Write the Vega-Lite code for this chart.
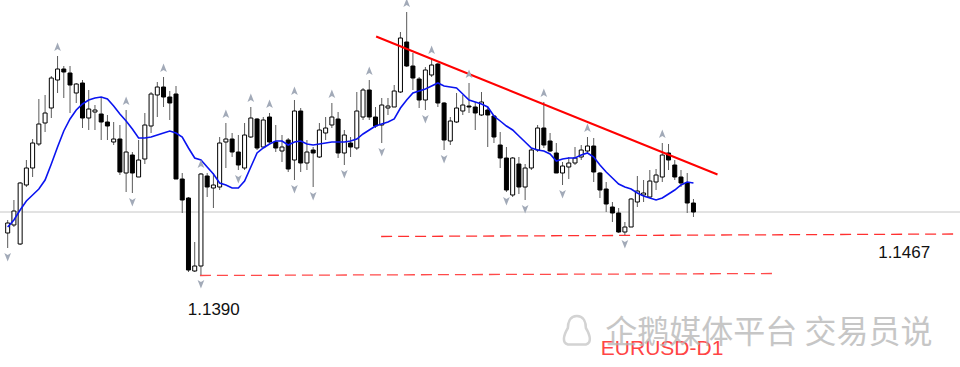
{
  "$schema": "https://vega.github.io/schema/vega-lite/v6.json",
  "width": 960,
  "height": 367,
  "padding": 0,
  "autosize": {"type": "none"},
  "background": "white",
  "config": {"view": {"stroke": null}},
  "data": {"values": [
    {"d":0,"o":1.1472,"h":1.1498,"l":1.1442,"c":1.1492,"ma":1.1484,"fd":1},
    {"d":1,"o":1.1488,"h":1.1538,"l":1.1484,"c":1.1516,"ma":1.1498},
    {"d":2,"o":1.1450,"h":1.1574,"l":1.1448,"c":1.1572,"ma":1.1518},
    {"d":3,"o":1.1568,"h":1.1618,"l":1.1564,"c":1.1602,"ma":1.1536},
    {"d":4,"o":1.1602,"h":1.1660,"l":1.1584,"c":1.1652,"ma":1.1548},
    {"d":5,"o":1.1650,"h":1.1740,"l":1.1646,"c":1.1690,"ma":1.1560},
    {"d":6,"o":1.1692,"h":1.1748,"l":1.1674,"c":1.1712,"ma":1.1578},
    {"d":7,"o":1.1722,"h":1.1786,"l":1.1702,"c":1.1782,"ma":1.1610},
    {"d":8,"o":1.1778,"h":1.1826,"l":1.1752,"c":1.1800,"ma":1.1644,"fu":1},
    {"d":9,"o":1.1800,"h":1.1806,"l":1.1742,"c":1.1794,"ma":1.1676},
    {"d":10,"o":1.1792,"h":1.1806,"l":1.1712,"c":1.1768,"ma":1.1700},
    {"d":11,"o":1.1752,"h":1.1772,"l":1.1732,"c":1.1770,"ma":1.1718},
    {"d":12,"o":1.1772,"h":1.1778,"l":1.1682,"c":1.1702,"ma":1.1730},
    {"d":13,"o":1.1702,"h":1.1758,"l":1.1678,"c":1.1720,"ma":1.1738},
    {"d":14,"o":1.1714,"h":1.1728,"l":1.1678,"c":1.1718,"ma":1.1742},
    {"d":15,"o":1.1710,"h":1.1742,"l":1.1658,"c":1.1694,"ma":1.1744},
    {"d":16,"o":1.1694,"h":1.1708,"l":1.1658,"c":1.1686,"ma":1.1740},
    {"d":17,"o":1.1654,"h":1.1694,"l":1.1648,"c":1.1660,"ma":1.1726},
    {"d":18,"o":1.1660,"h":1.1688,"l":1.1588,"c":1.1594,"ma":1.1710},
    {"d":19,"o":1.1592,"h":1.1718,"l":1.1554,"c":1.1634,"ma":1.1696,"fu":1},
    {"d":20,"o":1.1628,"h":1.1634,"l":1.1552,"c":1.1592,"ma":1.1680,"fd":1},
    {"d":21,"o":1.1584,"h":1.1658,"l":1.1584,"c":1.1618,"ma":1.1662},
    {"d":22,"o":1.1620,"h":1.1712,"l":1.1610,"c":1.1688,"ma":1.1662},
    {"d":23,"o":1.1686,"h":1.1754,"l":1.1672,"c":1.1750,"ma":1.1664},
    {"d":24,"o":1.1748,"h":1.1774,"l":1.1704,"c":1.1764,"ma":1.1668},
    {"d":25,"o":1.1764,"h":1.1784,"l":1.1724,"c":1.1744,"ma":1.1672,"fu":1},
    {"d":26,"o":1.1744,"h":1.1756,"l":1.1698,"c":1.1732,"ma":1.1676},
    {"d":27,"o":1.1750,"h":1.1766,"l":1.1580,"c":1.1580,"ma":1.1672},
    {"d":28,"o":1.1580,"h":1.1592,"l":1.1512,"c":1.1538,"ma":1.1664},
    {"d":29,"o":1.1542,"h":1.1544,"l":1.1394,"c":1.1398,"ma":1.1642},
    {"d":30,"o":1.1396,"h":1.1454,"l":1.1394,"c":1.1406,"ma":1.1622},
    {"d":31,"o":1.1406,"h":1.1592,"l":1.1388,"c":1.1590,"ma":1.1618,"fu":1,"fd":1},
    {"d":32,"o":1.1586,"h":1.1592,"l":1.1544,"c":1.1564,"ma":1.1604},
    {"d":33,"o":1.1562,"h":1.1592,"l":1.1522,"c":1.1568,"ma":1.1590},
    {"d":34,"o":1.1564,"h":1.1664,"l":1.1558,"c":1.1652,"ma":1.1572},
    {"d":35,"o":1.1654,"h":1.1692,"l":1.1602,"c":1.1660,"ma":1.1568,"fu":1},
    {"d":36,"o":1.1660,"h":1.1672,"l":1.1624,"c":1.1634,"ma":1.1562},
    {"d":37,"o":1.1634,"h":1.1668,"l":1.1598,"c":1.1608,"ma":1.1562,"fd":1},
    {"d":38,"o":1.1602,"h":1.1692,"l":1.1598,"c":1.1668,"ma":1.1576},
    {"d":39,"o":1.1664,"h":1.1724,"l":1.1662,"c":1.1702,"ma":1.1604,"fu":1},
    {"d":40,"o":1.1700,"h":1.1702,"l":1.1638,"c":1.1642,"ma":1.1632},
    {"d":41,"o":1.1644,"h":1.1704,"l":1.1644,"c":1.1698,"ma":1.1642},
    {"d":42,"o":1.1704,"h":1.1712,"l":1.1652,"c":1.1654,"ma":1.1650,"fu":1},
    {"d":43,"o":1.1654,"h":1.1688,"l":1.1634,"c":1.1642,"ma":1.1656},
    {"d":44,"o":1.1636,"h":1.1668,"l":1.1614,"c":1.1644,"ma":1.1656},
    {"d":45,"o":1.1658,"h":1.1662,"l":1.1594,"c":1.1600,"ma":1.1648},
    {"d":46,"o":1.1618,"h":1.1738,"l":1.1578,"c":1.1716,"ma":1.1654,"fu":1,"fd":1},
    {"d":47,"o":1.1716,"h":1.1722,"l":1.1594,"c":1.1612,"ma":1.1656},
    {"d":48,"o":1.1612,"h":1.1658,"l":1.1598,"c":1.1634,"ma":1.1650},
    {"d":49,"o":1.1638,"h":1.1644,"l":1.1564,"c":1.1632,"ma":1.1648,"fd":1},
    {"d":50,"o":1.1624,"h":1.1692,"l":1.1622,"c":1.1678,"ma":1.1650},
    {"d":51,"o":1.1672,"h":1.1704,"l":1.1658,"c":1.1682,"ma":1.1652},
    {"d":52,"o":1.1688,"h":1.1732,"l":1.1682,"c":1.1704,"ma":1.1654,"fu":1},
    {"d":53,"o":1.1700,"h":1.1714,"l":1.1622,"c":1.1632,"ma":1.1654},
    {"d":54,"o":1.1632,"h":1.1678,"l":1.1608,"c":1.1668,"ma":1.1654,"fd":1},
    {"d":55,"o":1.1652,"h":1.1664,"l":1.1624,"c":1.1644,"ma":1.1656},
    {"d":56,"o":1.1642,"h":1.1754,"l":1.1638,"c":1.1716,"ma":1.1660},
    {"d":57,"o":1.1704,"h":1.1762,"l":1.1698,"c":1.1758,"ma":1.1670},
    {"d":58,"o":1.1758,"h":1.1778,"l":1.1698,"c":1.1704,"ma":1.1678,"fu":1},
    {"d":59,"o":1.1704,"h":1.1724,"l":1.1682,"c":1.1686,"ma":1.1686},
    {"d":60,"o":1.1688,"h":1.1742,"l":1.1652,"c":1.1728,"ma":1.1690,"fd":1},
    {"d":61,"o":1.1722,"h":1.1742,"l":1.1708,"c":1.1726,"ma":1.1694},
    {"d":62,"o":1.1724,"h":1.1768,"l":1.1724,"c":1.1756,"ma":1.1700},
    {"d":63,"o":1.1754,"h":1.1874,"l":1.1752,"c":1.1862,"ma":1.1722},
    {"d":64,"o":1.1854,"h":1.1914,"l":1.1804,"c":1.1806,"ma":1.1738,"fu":1},
    {"d":65,"o":1.1806,"h":1.1832,"l":1.1758,"c":1.1782,"ma":1.1752},
    {"d":66,"o":1.1780,"h":1.1784,"l":1.1722,"c":1.1738,"ma":1.1756},
    {"d":67,"o":1.1738,"h":1.1804,"l":1.1718,"c":1.1798,"ma":1.1760,"fd":1},
    {"d":68,"o":1.1788,"h":1.1820,"l":1.1784,"c":1.1808,"ma":1.1766,"fu":1},
    {"d":69,"o":1.1810,"h":1.1812,"l":1.1724,"c":1.1732,"ma":1.1772},
    {"d":70,"o":1.1732,"h":1.1734,"l":1.1638,"c":1.1658,"ma":1.1766,"fd":1},
    {"d":71,"o":1.1656,"h":1.1704,"l":1.1648,"c":1.1696,"ma":1.1764},
    {"d":72,"o":1.1694,"h":1.1752,"l":1.1692,"c":1.1722,"ma":1.1762},
    {"d":73,"o":1.1716,"h":1.1748,"l":1.1708,"c":1.1728,"ma":1.1750},
    {"d":74,"o":1.1726,"h":1.1772,"l":1.1712,"c":1.1724,"ma":1.1738,"fu":1},
    {"d":75,"o":1.1724,"h":1.1734,"l":1.1678,"c":1.1712,"ma":1.1734},
    {"d":76,"o":1.1708,"h":1.1754,"l":1.1706,"c":1.1734,"ma":1.1730},
    {"d":77,"o":1.1718,"h":1.1724,"l":1.1644,"c":1.1708,"ma":1.1724},
    {"d":78,"o":1.1706,"h":1.1708,"l":1.1652,"c":1.1664,"ma":1.1706},
    {"d":79,"o":1.1648,"h":1.1674,"l":1.1602,"c":1.1622,"ma":1.1696},
    {"d":80,"o":1.1622,"h":1.1644,"l":1.1554,"c":1.1558,"ma":1.1686,"fd":1},
    {"d":81,"o":1.1548,"h":1.1624,"l":1.1544,"c":1.1622,"ma":1.1678},
    {"d":82,"o":1.1610,"h":1.1624,"l":1.1550,"c":1.1564,"ma":1.1666},
    {"d":83,"o":1.1564,"h":1.1610,"l":1.1538,"c":1.1602,"ma":1.1654,"fd":1},
    {"d":84,"o":1.1602,"h":1.1642,"l":1.1598,"c":1.1638,"ma":1.1642},
    {"d":85,"o":1.1638,"h":1.1688,"l":1.1634,"c":1.1682,"ma":1.1638},
    {"d":86,"o":1.1682,"h":1.1734,"l":1.1642,"c":1.1648,"ma":1.1636,"fu":1},
    {"d":87,"o":1.1656,"h":1.1672,"l":1.1634,"c":1.1636,"ma":1.1630},
    {"d":88,"o":1.1632,"h":1.1652,"l":1.1592,"c":1.1592,"ma":1.1616},
    {"d":89,"o":1.1592,"h":1.1614,"l":1.1568,"c":1.1606,"ma":1.1620,"fd":1},
    {"d":90,"o":1.1604,"h":1.1624,"l":1.1580,"c":1.1612,"ma":1.1622},
    {"d":91,"o":1.1612,"h":1.1644,"l":1.1608,"c":1.1622,"ma":1.1622},
    {"d":92,"o":1.1624,"h":1.1648,"l":1.1618,"c":1.1638,"ma":1.1628},
    {"d":93,"o":1.1636,"h":1.1664,"l":1.1632,"c":1.1646,"ma":1.1632,"fu":1},
    {"d":94,"o":1.1646,"h":1.1662,"l":1.1574,"c":1.1594,"ma":1.1624},
    {"d":95,"o":1.1592,"h":1.1594,"l":1.1542,"c":1.1558,"ma":1.1608},
    {"d":96,"o":1.1560,"h":1.1574,"l":1.1514,"c":1.1530,"ma":1.1594},
    {"d":97,"o":1.1524,"h":1.1534,"l":1.1494,"c":1.1512,"ma":1.1582},
    {"d":98,"o":1.1512,"h":1.1522,"l":1.1472,"c":1.1474,"ma":1.1570},
    {"d":99,"o":1.1474,"h":1.1494,"l":1.1468,"c":1.1484,"ma":1.1564,"fd":1},
    {"d":100,"o":1.1484,"h":1.1542,"l":1.1484,"c":1.1540,"ma":1.1560},
    {"d":101,"o":1.1534,"h":1.1586,"l":1.1524,"c":1.1556,"ma":1.1552},
    {"d":102,"o":1.1548,"h":1.1578,"l":1.1534,"c":1.1552,"ma":1.1546},
    {"d":103,"o":1.1544,"h":1.1598,"l":1.1542,"c":1.1576,"ma":1.1542},
    {"d":104,"o":1.1574,"h":1.1600,"l":1.1558,"c":1.1588,"ma":1.1538},
    {"d":105,"o":1.1584,"h":1.1652,"l":1.1574,"c":1.1628,"ma":1.1542,"fu":1},
    {"d":106,"o":1.1632,"h":1.1650,"l":1.1598,"c":1.1618,"ma":1.1550},
    {"d":107,"o":1.1608,"h":1.1618,"l":1.1578,"c":1.1584,"ma":1.1558},
    {"d":108,"o":1.1584,"h":1.1598,"l":1.1564,"c":1.1572,"ma":1.1568},
    {"d":109,"o":1.1572,"h":1.1592,"l":1.1512,"c":1.1532,"ma":1.1574},
    {"d":110,"o":1.1532,"h":1.1540,"l":1.1504,"c":1.1514,"ma":1.1572}
  ]},
  "encoding": {
    "x": {"field": "d", "type": "quantitative", "scale": {"domain": [-0.4286, 151.95], "nice": false, "zero": false}, "axis": null}
  },
  "layer": [
    {
      "data": {"values": [{"p": 1.1514}]},
      "mark": {"type": "rule", "color": "#c6c6c6", "strokeWidth": 1},
      "encoding": {"x": null, "y": {"field": "p", "type": "quantitative", "scale": {"domain": [1.1204, 1.1938], "nice": false, "zero": false}, "axis": null}}
    },
    {
      "data": {"values": [{"d": 30.84, "p": 1.1387}, {"d": 123.38, "p": 1.1391}]},
      "mark": {"type": "line", "color": "#ff4a4a", "strokeWidth": 1.3, "strokeDash": [11, 6]},
      "encoding": {"y": {"field": "p", "type": "quantitative"}}
    },
    {
      "data": {"values": [{"d": 59.9, "p": 1.1465}, {"d": 151.95, "p": 1.1470}]},
      "mark": {"type": "line", "color": "#ff3030", "strokeWidth": 1.3, "strokeDash": [11, 6]},
      "encoding": {"y": {"field": "p", "type": "quantitative"}}
    },
    {
      "mark": {"type": "rule", "color": "#5a5a5a", "strokeWidth": 1},
      "encoding": {"y": {"field": "l", "type": "quantitative"}, "y2": {"field": "h"}}
    },
    {
      "mark": {"type": "bar", "size": 4, "stroke": "#000000", "strokeWidth": 1},
      "encoding": {
        "y": {"field": "o", "type": "quantitative"},
        "y2": {"field": "c"},
        "fill": {"condition": {"test": "datum.c < datum.o", "value": "#000000"}, "value": "#ffffff"}
      }
    },
    {
      "mark": {"type": "line", "color": "#0a14f0", "strokeWidth": 1.6},
      "encoding": {"y": {"field": "ma", "type": "quantitative"}}
    },
    {
      "data": {"values": [{"d": 59.1, "p": 1.1865}, {"d": 113.86, "p": 1.1589}]},
      "mark": {"type": "line", "color": "#ff0000", "strokeWidth": 2},
      "encoding": {"y": {"field": "p", "type": "quantitative"}}
    },
    {
      "transform": [{"filter": "datum.fu"}],
      "mark": {"type": "point", "filled": true, "shape": "M0,-1L0.75,0.9L0,0.45L-0.75,0.9Z", "size": 80, "color": "#a2aab8", "opacity": 1, "yOffset": -9},
      "encoding": {"y": {"field": "h", "type": "quantitative"}}
    },
    {
      "transform": [{"filter": "datum.fd"}],
      "mark": {"type": "point", "filled": true, "shape": "M0,1L0.75,-0.9L0,-0.45L-0.75,-0.9Z", "size": 80, "color": "#a2aab8", "opacity": 1, "yOffset": 9},
      "encoding": {"y": {"field": "l", "type": "quantitative"}}
    },
    {
      "data": {"values": [{"d": 33.06, "p": 1.1318, "t": "1.1390"}, {"d": 143.8, "p": 1.1432, "t": "1.1467"}]},
      "mark": {"type": "text", "font": "Liberation Sans", "fontSize": 17, "color": "#111111", "baseline": "middle", "align": "center"},
      "encoding": {"y": {"field": "p", "type": "quantitative"}, "text": {"field": "t"}}
    },
    {
      "data": {"values": [{"d": 104.97, "p": 1.1240, "t": "EURUSD-D1"}]},
      "mark": {"type": "text", "font": "Liberation Sans", "fontSize": 21, "color": "#ff4545", "baseline": "middle", "align": "center"},
      "encoding": {"y": {"field": "p", "type": "quantitative"}, "text": {"field": "t"}}
    },
    {
      "data": {"values": [{"d": 91.3, "p": 1.1276}]},
      "mark": {"type": "point", "filled": false, "shape": "M0,-1C0.5,-1 0.6,-0.5 0.6,-0.2C0.9,0.3 1,0.8 0.6,0.9L-0.6,0.9C-1,0.8 -0.9,0.3 -0.6,-0.2C-0.6,-0.5 -0.5,-1 0,-1Z", "size": 900, "stroke": "#cccccc", "strokeWidth": 2.5, "opacity": 0.85},
      "encoding": {"y": {"field": "p", "type": "quantitative"}}
    },
    {
      "data": {"values": [{"d": 122.1, "p": 1.1272, "t": "企鹅媒体平台 交易员说"}]},
      "mark": {"type": "text", "font": "Noto Sans CJK SC", "fontSize": 32, "color": "#b4b4b4", "opacity": 0.75, "baseline": "middle", "align": "center"},
      "encoding": {"y": {"field": "p", "type": "quantitative"}, "text": {"field": "t"}}
    }
  ]
}
